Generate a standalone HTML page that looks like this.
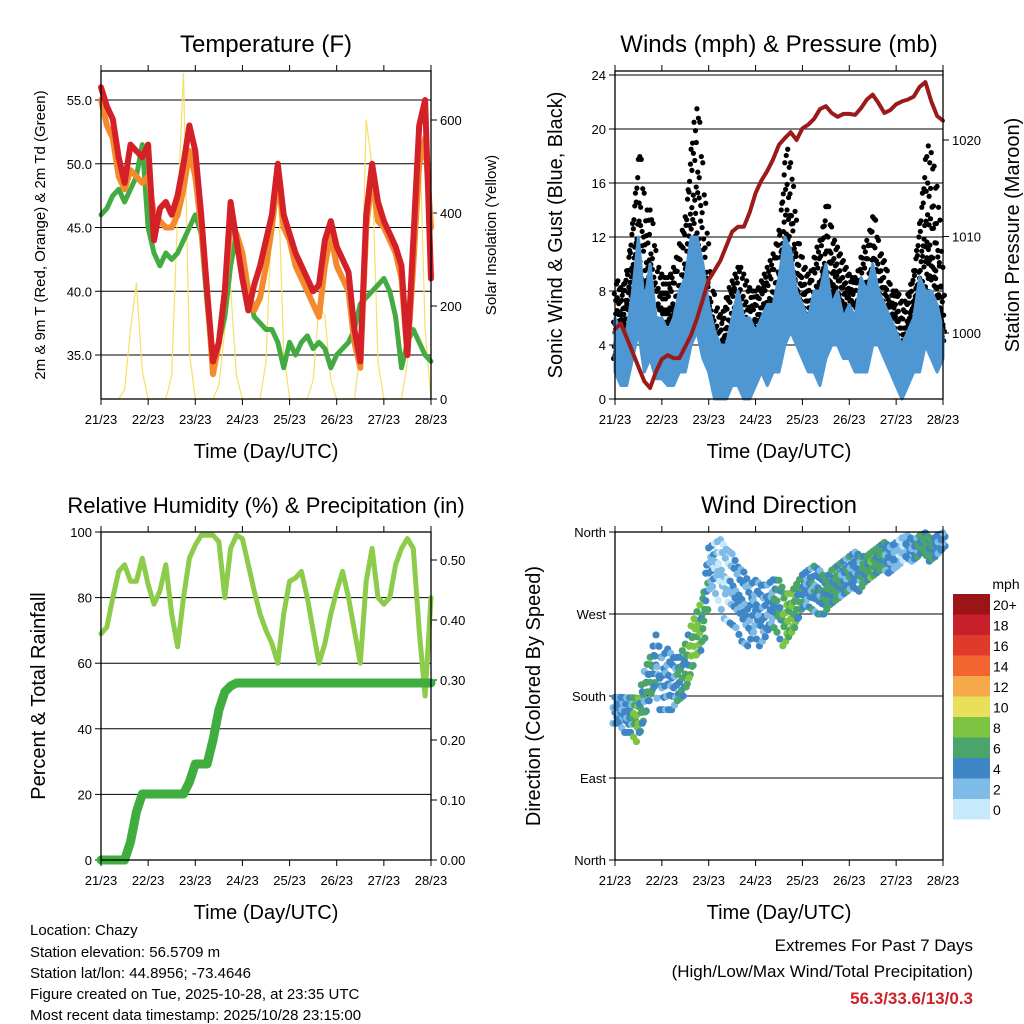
<!DOCTYPE html>
<html><head><meta charset="utf-8"><style>
body{margin:0;background:#fff;}
svg{display:block;font-family:"Liberation Sans",Arial,sans-serif;}
</style></head><body>
<svg id="chart" width="1024" height="1024" viewBox="0 0 1024 1024">
<g id="layer"></g>
<g font-size="15" fill="#000">
<text x="30" y="935">Location: Chazy</text>
<text x="30" y="957">Station elevation: 56.5709 m</text>
<text x="30" y="978">Station lat/lon: 44.8956; -73.4646</text>
<text x="30" y="999">Figure created on Tue, 2025-10-28, at 23:35 UTC</text>
<text x="30" y="1020">Most recent data timestamp: 2025/10/28 23:15:00</text>
</g>
<g text-anchor="end">
<text x="973" y="951" font-size="17">Extremes For Past 7 Days</text>
<text x="973" y="977" font-size="17">(High/Low/Max Wind/Total Precipitation)</text>
<text x="973" y="1004" font-size="17" font-weight="bold" fill="#cc2229">56.3/33.6/13/0.3</text>
</g>
</svg>
<script>
// 3-hourly values, 57 points (day 21/23 .. 28/23)
const dayLabels=["21/23","22/23","23/23","24/23","25/23","26/23","27/23","28/23"];
const temp9m=[56,54.5,53.5,50.5,48.5,51.5,51,50.5, 51.5,44,46.5,47,46,47.5,50,53, 51,46,40,34.5,36,40,47,44, 41,38.5,40.5,42,44,46,50,46, 44.5,43,42,41,40,40.5,44,45.5, 43.5,42.5,41.5,37,34.5,46,50,47, 45.5,44.5,43.5,42,35,44,53,55,41];
const temp2m=[55,53,52,49,48,49.5,49,48.5, 49,46,45.5,45,45,46,48,51, 49,45,40,33.5,36,40,45,44.5, 43,40,38.5,39.5,42,45,49,45, 44,42,41,40,39,38,42,44.5, 42,41,40,36,34,45,49,45.5, 45,44,43,41,35,42,50,52,45];
const dewpt=[46,46.5,47.5,48,47,48,49,51.5, 45,43,42,43,42.5,43,44,45, 46,44.5,39,34,36,38,42,44.5, 42,40,38,37.5,37,37,36,34, 36,35,36,36.5,35.5,36,35.5,34, 35,35.5,36,37,39,39.5,40,40.5, 41,40,38,34,36,37,36,35,34.5];
const solar=[0,0,0,0,20,150,250,60, 0,0,0,0,50,400,700,100, 0,0,0,0,30,150,240,50, 0,0,0,0,80,400,500,100, 0,0,0,0,40,200,180,40, 0,0,0,0,100,600,500,80, 0,0,0,0,80,450,600,150,0];
const windLow=[2,1,1,3,5,2,3,1.5, 1.5,1,1,2,2,4,5,3, 2,0,0,0,1,1,0,0, 1,2,1,2,2,4,5,4, 3,2,2,1,3,4,4,3, 3,2,2,2,4,4,3,2, 1,0,1,2,2,4,3,2,3];
const windHigh=[6,5,5,8,12,7,10,6, 6,5,6,8,9,12,12,10, 7,5,4,4,6,8,6,6, 5,6,7,7,9,12,11,8, 7,6,8,8,10,7,8,6, 7,6,9,8,10,8,7,6, 5,4,5,6,9,8,8,7,5];
const gustLow=[3,4,4,5,6,4,5,3, 3,3,3,4,5,7,7,5, 3,1,1,2,3,3,2,2, 3,4,3,4,5,7,8,6, 5,4,4,4,6,6,6,5, 5,4,4,4,6,6,5,4, 3,2,3,4,4,6,6,5,4];
const gustHigh=[9,8,10,14,19,14,14,10, 9,9,10,12,14,20,22,16, 10,7,6,8,9,10,9,8, 8,9,10,11,13,19,17,12, 10,9,11,12,15,12,11,10, 9,9,11,12,14,11,10,8, 8,7,8,10,14,19,18,15,8];
const pressure=[1000.4,1001,999.5,998,996.5,995,994.3,996,997.3,997.7,997.4,997.4,998.6,999.8,1001.5,1003.5,1005.5,1006.5,1007.5,1009,1010.5,1011,1011,1012.5,1014.5,1015.8,1016.8,1018,1019.5,1020.2,1020.8,1020,1021.2,1021.6,1022.2,1023.2,1023.5,1022.8,1022.4,1022.7,1022.7,1022.6,1023.3,1024.2,1024.7,1023.8,1022.8,1023.1,1023.7,1024,1024.2,1024.5,1025.5,1026,1024,1022.5,1022];
const rh=[69,71,80,88,90,85,85,92, 84,78,82,90,75,65,80,92, 96,99,99,99,97,80,95,99, 98,90,82,75,70,66,60,75, 85,86,88,80,70,60,66,75, 82,88,80,70,60,85,95,80, 78,80,90,95,98,95,70,50,80];
const precip=[0,0,0,0,0,0.03,0.08,0.11, 0.11,0.11,0.11,0.11,0.11,0.11,0.11,0.13, 0.16,0.16,0.16,0.2,0.25,0.28,0.29,0.295, 0.295,0.295,0.295,0.295,0.295,0.295,0.295,0.295, 0.295,0.295,0.295,0.295,0.295,0.295,0.295,0.295, 0.295,0.295,0.295,0.295,0.295,0.295,0.295,0.295, 0.295,0.295,0.295,0.295,0.295,0.295,0.295,0.295,0.295];
const windDir=[165,165,160,160,155,180,200,220, 195,200,195,200,210,230,250,260, 320,325,320,305,300,290,280,270, 280,270,275,285,280,265,270,280, 295,300,300,295,290,300,305,310, 315,320,315,320,325,330,335,330, 335,340,345,340,345,350,340,345,350];
const dirSpread=[15,15,20,20,25,30,25,30, 30,35,30,25,30,30,25,30, 25,25,35,40,40,35,40,35, 30,35,30,25,30,30,25,25, 20,20,25,25,20,20,20,20, 20,20,20,15,15,15,15,15, 15,15,12,12,12,10,12,12,10];
const speedLabels=["0","2","4","6","8","10","12","14","16","18","20+"];
const speedColors=["#c6e9fb","#7ebbe6","#3f86c6","#4aa56b","#7dc443","#e8e05a","#f5a94a","#f26530","#e03b2a","#c8202a","#9a1418"];

const NS="http://www.w3.org/2000/svg";
const root=document.getElementById('layer');
function mk(tag,attrs,parent){const e=document.createElementNS(NS,tag);for(const k in attrs)e.setAttribute(k,attrs[k]);(parent||root).appendChild(e);return e;}
function txt(x,y,s,size,anchor,parent,rot){const t=mk('text',{x:x,y:y,'font-size':size,'text-anchor':anchor||'middle'},parent);if(rot)t.setAttribute('transform','rotate('+rot+' '+x+' '+y+')');t.textContent=s;return t;}
function lerp(arr,f){const i=Math.floor(f),j=Math.min(arr.length-1,i+1),u=f-i;return arr[i]*(1-u)+arr[j]*u;}

function panel(name,x0,x1,y0,y1,title){
  const g=mk('g',{});
  
  
  const X=t=>x0+(x1-x0)*t/7;
  return {g,X,x0,x1,y0,y1,title};
}
function frame(p,titleSize){
  const g=p.g;
  mk('rect',{x:p.x0,y:p.y0,width:p.x1-p.x0,height:p.y1-p.y0,fill:'none',stroke:'#000','stroke-width':1.3},g);
  for(let d=0;d<=7;d++){
    const x=p.X(d);
    mk('line',{x1:x,x2:x,y1:p.y1,y2:p.y1+6,stroke:'#000'},g);
    mk('line',{x1:x,x2:x,y1:p.y0,y2:p.y0-6,stroke:'#000'},g);
    const l=txt(x,p.y1+25,dayLabels[d],13,'middle',g);
    
    
  }
  const xt=txt((p.x0+p.x1)/2,p.y1+59,'Time (Day/UTC)',20,'middle',g);
  
  
  const tt=txt((p.x0+p.x1)/2,p.y0-19,p.title,titleSize||24,'middle',g);
  
  
}
function yTicks(p,vals,labels,Y,side,grid){
  const g=p.g;
  const xe=side==='left'?p.x0:p.x1, dir=side==='left'?-1:1;
  vals.forEach((v,i)=>{
    const y=Y(v);
    mk('line',{x1:xe,x2:xe+dir*6,y1:y,y2:y,stroke:'#000'},g);
    if(grid) mk('line',{x1:p.x0,x2:p.x1,y1:y,y2:y,stroke:'#000','stroke-width':1},g);
    const l=txt(xe+dir*9,y+5,labels[i],13,side==='left'?'end':'start',g);
    
    
  });
}
function line(p,arr,Y,color,w,name){
  const pts=arr.map((v,i)=>p.X(i/8).toFixed(1)+','+Y(v).toFixed(1)).join(' ');
  const e=mk('polyline',{points:pts,fill:'none',stroke:color,'stroke-width':w,'stroke-linejoin':'round','stroke-linecap':'round'},p.g);
  
  
  return e;
}
function band(p,lo,hi,Y,color,name){
  const a=hi.map((v,i)=>p.X(i/8).toFixed(1)+','+Y(v).toFixed(1));
  const b=lo.map((v,i)=>p.X(i/8).toFixed(1)+','+Y(v).toFixed(1)).reverse();
  const e=mk('polygon',{points:a.concat(b).join(' '),fill:color,stroke:color,'stroke-width':3,'stroke-linejoin':'round'},p.g);
  
  
}

// Panel 1: Temperature
const p1=panel('temperature-panel',101,431,71,399,'Temperature (F)');
const T=v=>399-(v-31.55)*12.75, S=v=>399-v*0.465;
yTicks(p1,[35,40,45,50,55],["35.0","40.0","45.0","50.0","55.0"],T,'left',true);
yTicks(p1,[0,200,400,600],["0","200","400","600"],S,'right',false);
line(p1,solar,S,'#f7e067',1.2,'solar-insolation-line');
line(p1,dewpt,T,'#44ab43',5,'dewpoint-line');
line(p1,temp2m,T,'#f58a2d',6,'temp-2m-line');
line(p1,temp9m,T,'#d42128',6,'temp-9m-line');
frame(p1,24);
const yt1=txt(45,235,'2m & 9m T (Red, Orange) & 2m Td (Green)',15,'middle',p1.g,-90);


const yt1r=txt(496,235,'Solar Insolation (Yellow)',15,'middle',p1.g,-90);



// Panel 2: Winds
const p2=panel('winds-panel',615,943,71,399,'Winds (mph) & Pressure (mb)');
const W=v=>399-v*13.5, P=v=>333-(v-1000)*9.65;
yTicks(p2,[0,4,8,12,16,20,24],["0","4","8","12","16","20","24"],W,'left',true);
yTicks(p2,[1000,1010,1020],["1000","1010","1020"],P,'right',false);
// gust dots drawn within gust range
const gfr=[0,0.08,0.16,0.25,0.35,0.45,0.6,0.8,1];
for(let f=0;f<=56;f+=0.25){
  const lo=lerp(gustLow,f),hi=lerp(gustHigh,f);
  gfr.forEach((q,k)=>{
    const c=mk('circle',{cx:p2.X(f/8)+((k*3)%5-2)*0.7,cy:W(lo+(hi-lo)*q*((k+Math.round(f*4))%2?1:0.92)),r:2.6,fill:'#000'},p2.g);
    
    
  });
}
band(p2,windLow,windHigh,W,'#4f97d2','wind-band');
line(p2,pressure,P,'#9b1b1b',4,'pressure-line');
frame(p2,24);
const yt2=txt(562,235,'Sonic Wind & Gust (Blue, Black)',20,'middle',p2.g,-90);


const yt2r=txt(1019,235,'Station Pressure (Maroon)',20,'middle',p2.g,-90);



// Panel 3: RH & precip
const p3=panel('humidity-panel',101,431,532,860,'Relative Humidity (%) & Precipitation (in)');
const R=v=>860-v*3.28, PR=v=>860-v*600;
yTicks(p3,[0,20,40,60,80,100],["0","20","40","60","80","100"],R,'left',true);
yTicks(p3,[0,0.1,0.2,0.3,0.4,0.5],["0.00","0.10","0.20","0.30","0.40","0.50"],PR,'right',false);
line(p3,rh,R,'#8dcb4a',5,'humidity-line');
line(p3,precip,PR,'#3fae3f',9,'precip-line');
frame(p3,22);
const yt3=txt(45,696,'Percent & Total Rainfall',20,'middle',p3.g,-90);



// Panel 4: Wind direction
const p4=panel('wind-direction-panel',615,943,532,860,'Wind Direction');
const D=v=>860-v/360*328;
yTicks(p4,[0,90,180,270,360],["North","East","South","West","North"],D,'left',true);
const offs=[-1,-0.55,-0.2,0.15,0.5,0.9];
for(let f=0;f<=56;f+=0.5){
  const d=lerp(windDir,f),spd=lerp(dirSpread,f);
  const sp=(lerp(windLow,f)+lerp(windHigh,f))/2;
  const ci=Math.min(10,Math.max(0,Math.round(sp/2)));
  offs.forEach((o,k)=>{
    const c=mk('circle',{cx:p4.X(f/8)+((k*2)%3-1)*2,cy:D(Math.min(360,d+o*spd)),r:3.6,fill:speedColors[Math.max(0,ci-((k+f*2)%3===0?1:0))]},p4.g);
    
    
  });
}
frame(p4,24);
const yt4=txt(540,696,'Direction (Colored By Speed)',20,'middle',p4.g,-90);


// colorbar
const cb=mk('g',{});


txt(1006,589,'mph',14,'middle',cb);
speedColors.forEach((c,i)=>{
  const y=799-i*20.5;
  const r=mk('rect',{x:953,y:y,width:37,height:20.5,fill:c},cb);
  
  
  txt(993,y+16,speedLabels[i],14,'start',cb);
});
</script>
</body></html>
